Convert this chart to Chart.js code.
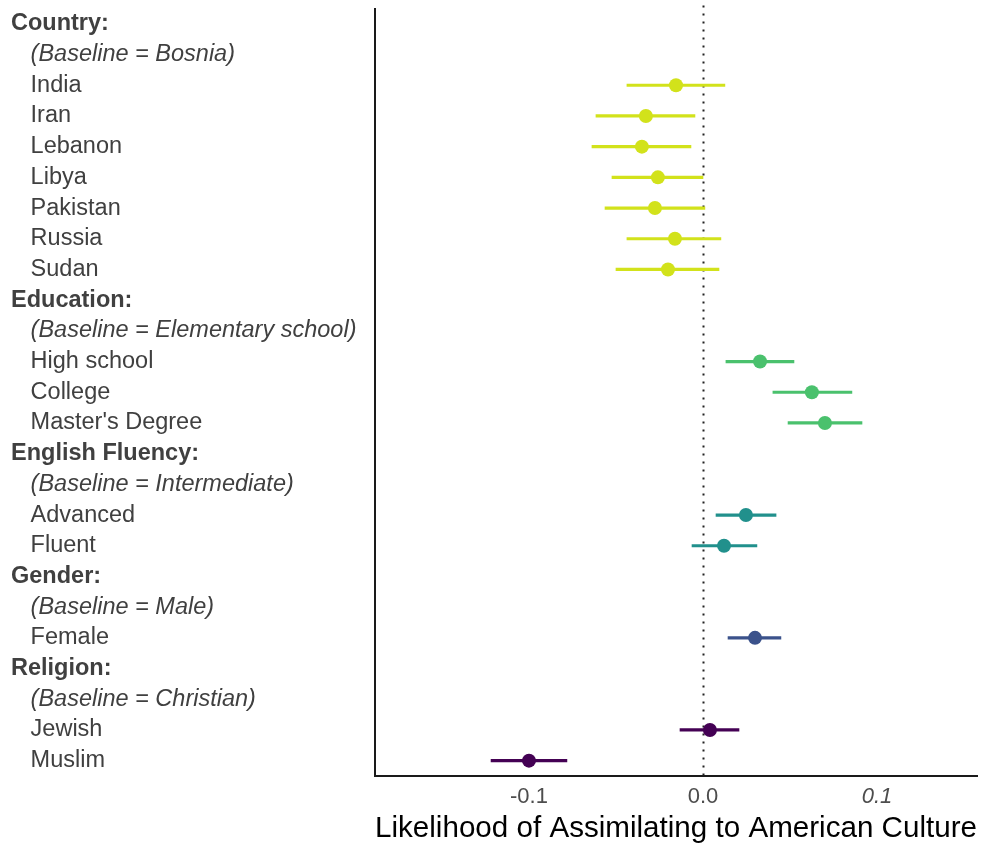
<!DOCTYPE html>
<html>
<head>
<meta charset="utf-8">
<script src="https://cdn.jsdelivr.net/npm/chart.js@4"></script>
<style>
  html, body { margin: 0; padding: 0; background: #ffffff; }
  #wrap { width: 987px; height: 844px; }
</style>
</head>
<body>
<div id="wrap"><canvas id="chart" width="987" height="844"></canvas></div>
<script>
// Row labels, top to bottom: group headers, baselines, and levels
const categories = [
  "Country:", "(Baseline = Bosnia)", "India", "Iran", "Lebanon", "Libya", "Pakistan", "Russia", "Sudan",
  "Education:", "(Baseline = Elementary school)", "High school", "College", "Master's Degree",
  "English Fluency:", "(Baseline = Intermediate)", "Advanced", "Fluent",
  "Gender:", "(Baseline = Male)", "Female",
  "Religion:", "(Baseline = Christian)", "Jewish", "Muslim"
];

// Group each row belongs to
const groups = [
  "Country", "Country", "Country", "Country", "Country", "Country", "Country", "Country", "Country",
  "Education", "Education", "Education", "Education", "Education",
  "English", "English", "English", "English",
  "Gender", "Gender", "Gender",
  "Religion", "Religion", "Religion", "Religion"
];

// Point estimates (null for header/baseline rows)
const estimates = [
  null, null, -0.0155, -0.0328, -0.0351, -0.0259, -0.0276, -0.0161, -0.0201,
  null, null, 0.0328, 0.0626, 0.0701,
  null, null, 0.0247, 0.0121,
  null, null, 0.0299,
  null, null, 0.0040, -0.1000
];

// Lower and upper bounds of the confidence intervals
const lowerBounds = [
  null, null, -0.0437, -0.0615, -0.0638, -0.0523, -0.0563, -0.0437, -0.0500,
  null, null, 0.0132, 0.0402, 0.0489,
  null, null, 0.0075, -0.0063,
  null, null, 0.0144,
  null, null, -0.0132, -0.1218
];
const upperBounds = [
  null, null, 0.0126, -0.0046, -0.0069, 0.0000, 0.0011, 0.0103, 0.0092,
  null, null, 0.0523, 0.0856, 0.0914,
  null, null, 0.0420, 0.0310,
  null, null, 0.0448,
  null, null, 0.0207, -0.0782
];

// Tick values shown on the horizontal axis
const xTicks = [-0.1, 0.0, 0.1];

const groupColors = {
  Country: "#d2e21b",
  Education: "#4ac16d",
  English: "#21908c",
  Gender: "#3b528b",
  Religion: "#440154"
};
const rowColors = groups.map(g => groupColors[g]);

const intervals = lowerBounds.map((lo, i) => (lo === null ? null : [lo, upperBounds[i]]));

const FONT = "'Liberation Sans', Arial, Helvetica, sans-serif";
const INDENT = "   ";
const LABEL_SIZE = 23.5;

// Dotted reference line at zero
const zeroLine = {
  id: "zeroLine",
  beforeDatasetsDraw(chart) {
    const { ctx, chartArea, scales } = chart;
    const x = Math.round(scales.x.getPixelForValue(0)) + 0.5;
    ctx.save();
    ctx.strokeStyle = "#222222";
    ctx.lineWidth = 2;
    ctx.setLineDash([2, 6]);
    ctx.beginPath();
    ctx.moveTo(x, chartArea.top - 3);
    ctx.lineTo(x, chartArea.bottom);
    ctx.stroke();
    ctx.restore();
  }
};

new Chart(document.getElementById("chart"), {
  type: "bar",
  data: {
    labels: categories,
    datasets: [
      {
        type: "line",
        label: "Estimate",
        data: estimates,
        indexAxis: "y",
        showLine: false,
        pointRadius: 7,
        pointHoverRadius: 7,
        pointBackgroundColor: rowColors,
        pointBorderColor: rowColors,
        pointBorderWidth: 0,
        order: 0
      },
      {
        type: "bar",
        label: "Interval",
        data: intervals,
        backgroundColor: rowColors,
        borderWidth: 0,
        barThickness: 2.5,
        order: 1
      }
    ]
  },
  options: {
    indexAxis: "y",
    responsive: false,
    animation: false,
    layout: { padding: { left: 11, right: 10, top: 8.5, bottom: 0 } },
    plugins: {
      legend: { display: false },
      tooltip: { enabled: false }
    },
    scales: {
      y: {
        type: "category",
        offset: true,
        grid: { display: false, drawTicks: false },
        border: { display: true, color: "#1a1a1a", width: 2 },
        afterFit(scale) { scale.width = 364; },
        ticks: {
          autoSkip: false,
          crossAlign: "far",
          padding: 0,
          color: "#404040",
          font(ctx) {
            const label = categories[ctx.index] || "";
            const base = { family: FONT, size: LABEL_SIZE, lineHeight: 0.5 };
            if (label.endsWith(":")) return { ...base, weight: "bold" };
            if (label.startsWith("(")) return { ...base, style: "italic" };
            return base;
          },
          callback(value, index) {
            const label = categories[index];
            return label.endsWith(":") ? label : INDENT + label;
          }
        }
      },
      x: {
        type: "linear",
        min: -0.1885,
        max: 0.1575,
        grid: { display: false, drawTicks: false },
        border: { display: true, color: "#1a1a1a", width: 2 },
        afterBuildTicks(scale) { scale.ticks = xTicks.map(v => ({ value: v })); },
        afterFit(scale) { scale.height = 68; },
        ticks: {
          autoSkip: false,
          padding: 10,
          color: "#4d4d4d",
          font(ctx) {
            const v = ctx.tick ? ctx.tick.value : 0;
            return { family: FONT, size: 22, lineHeight: 1.0, style: v > 0.05 ? "italic" : "normal" };
          },
          callback(value) { return Number(value).toFixed(1); }
        },
        title: {
          display: true,
          text: "Likelihood of Assimilating to American Culture",
          color: "#000000",
          font: { family: FONT, size: 30, lineHeight: 1.0 },
          padding: { top: 2, bottom: 0 }
        }
      }
    }
  },
  plugins: [zeroLine]
});
</script>
</body>
</html>
